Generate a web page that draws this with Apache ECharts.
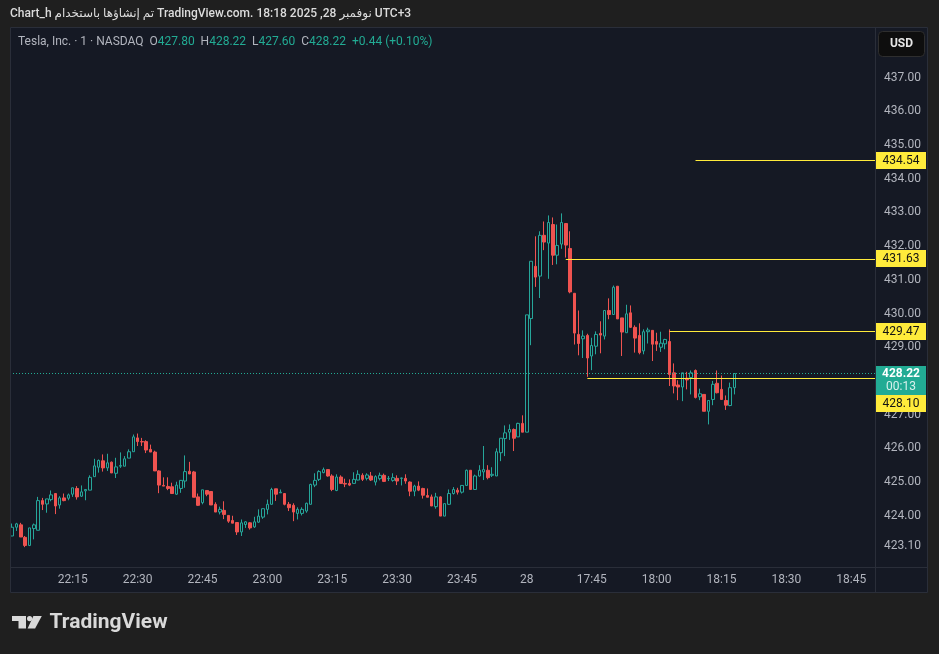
<!DOCTYPE html>
<html>
<head>
<meta charset="utf-8">
<script src="https://cdn.jsdelivr.net/npm/echarts@6.0.0/dist/echarts.min.js"></script>
<style>
html,body{margin:0;padding:0;background:#1f1f1f;}
#chart{width:939px;height:654px;}
</style>
</head>
<body>
<div id="chart"></div>
<script>
// ---------------- data ----------------
const sessions = [['22:01', '23:59'], ['17:30', '18:50']];
const tickTimes = ['22:15', '22:30', '22:45', '23:00', '23:15', '23:30', '23:45', '17:30', '17:45', '18:00', '18:15', '18:30', '18:45'];
const dayMark = { '17:30': '28' };

const open = [
  423.40, 423.66, 423.73, 423.36, 423.12, 423.62, 423.57, 424.45, 424.35, 424.48,
  424.66, 424.32, 424.53, 424.52, 424.64, 424.81, 424.58, 424.74, 424.76, 425.16,
  425.44, 425.63, 425.42, 425.59, 425.26, 425.47, 425.47, 425.71, 425.90, 426.31,
  426.20, 426.20, 425.97, 425.89, 425.33, 424.90, 424.87, 424.86, 424.64, 424.81,
  425.03, 425.32, 425.30, 424.56, 424.39, 424.75, 424.72, 424.34, 424.11, 424.16,
  424.01, 423.86, 423.80, 423.52, 423.74, 423.79, 423.67, 423.81, 423.96, 424.19,
  424.34, 424.80, 424.68, 424.66, 424.34, 424.31, 424.07, 424.07, 424.14, 424.34,
  424.91, 425.08, 425.28, 425.37, 425.18, 424.75, 425.15, 424.96, 424.96, 424.96,
  425.06, 425.20, 425.11, 425.18, 425.00, 425.10, 425.20, 425.10, 425.05, 425.11,
  425.11, 425.11, 425.00, 424.73, 424.88, 424.81, 424.60, 424.56, 424.27, 424.56,
  423.99, 424.34, 424.66, 424.76, 424.70, 424.90, 425.35, 424.78, 425.18, 425.30,
  425.35, 425.20, 425.18, 425.87, 426.29, 426.48, 426.56, 426.34, 426.74, 426.48,
  429.85, 431.40, 431.11, 432.32, 432.09, 432.64, 431.73, 432.06, 432.67, 431.93,
  430.60, 429.38, 429.25, 429.35, 428.74, 429.03, 429.41, 429.33, 430.09, 429.97,
  430.81, 429.87, 429.43, 430.02, 429.59, 429.35, 428.89, 429.46, 429.50, 429.17,
  429.00, 429.10, 429.17, 428.24, 427.88, 427.82, 428.08, 428.10, 428.31, 427.53,
  427.60, 427.10, 427.45, 427.93, 427.75, 427.42, 427.27, 427.80
];
const close = [
  423.66, 423.76, 423.37, 423.12, 423.64, 423.73, 424.45, 424.34, 424.50, 424.62,
  424.29, 424.53, 424.45, 424.62, 424.83, 424.56, 424.71, 424.78, 425.14, 425.48,
  425.64, 425.42, 425.57, 425.27, 425.45, 425.49, 425.69, 425.90, 426.34, 426.20,
  426.19, 425.95, 425.89, 425.33, 424.91, 424.88, 424.81, 424.66, 424.91, 425.05,
  425.31, 425.24, 424.55, 424.31, 424.77, 424.64, 424.32, 424.11, 424.19, 424.04,
  423.84, 423.78, 423.52, 423.79, 423.82, 423.64, 423.82, 423.99, 424.21, 424.34,
  424.78, 424.64, 424.70, 424.34, 424.24, 424.11, 424.19, 424.19, 424.37, 424.93,
  425.05, 425.31, 425.37, 425.18, 424.78, 425.15, 424.96, 424.94, 424.91, 425.08,
  425.23, 425.08, 425.21, 425.06, 425.16, 425.20, 425.02, 425.11, 425.13, 425.03,
  425.12, 425.03, 424.73, 424.88, 424.76, 424.61, 424.55, 424.29, 424.56, 423.99,
  424.36, 424.66, 424.78, 424.70, 424.90, 425.35, 424.78, 425.18, 425.35, 425.37,
  425.13, 425.23, 425.90, 426.30, 426.46, 426.56, 426.30, 426.74, 426.48, 429.96,
  431.55, 431.08, 432.32, 432.12, 432.70, 431.73, 432.02, 432.70, 432.03, 430.64,
  429.42, 429.11, 429.33, 428.68, 429.05, 429.38, 429.36, 430.09, 429.97, 430.78,
  429.84, 429.45, 429.99, 429.59, 429.27, 428.84, 429.46, 429.51, 429.09, 429.09,
  429.12, 429.23, 428.19, 427.85, 427.82, 428.24, 428.03, 428.24, 427.51, 427.62,
  427.10, 427.42, 427.90, 427.65, 427.45, 427.28, 427.80, 428.22
];
const low = [
  423.40, 423.55, 423.37, 423.07, 423.10, 423.30, 423.57, 424.17, 424.09, 424.43,
  424.05, 424.21, 424.43, 424.46, 424.56, 424.48, 424.56, 424.46, 424.76, 425.16,
  425.28, 425.31, 425.33, 425.27, 425.12, 425.42, 425.47, 425.71, 425.90, 426.07,
  426.07, 425.86, 425.89, 425.33, 424.67, 424.88, 424.76, 424.66, 424.62, 424.68,
  424.83, 425.24, 424.55, 424.29, 424.34, 424.58, 424.32, 424.11, 424.04, 423.90,
  423.79, 423.78, 423.43, 423.40, 423.64, 423.59, 423.64, 423.79, 423.91, 424.04,
  424.34, 424.44, 424.68, 424.31, 424.14, 423.84, 423.89, 424.01, 424.09, 424.34,
  424.85, 425.03, 425.26, 425.16, 424.73, 424.73, 424.96, 424.85, 424.88, 424.96,
  425.05, 425.03, 425.05, 425.03, 424.90, 425.05, 425.00, 425.03, 425.01, 424.91,
  424.90, 424.95, 424.58, 424.58, 424.73, 424.51, 424.55, 424.29, 424.21, 423.99,
  423.99, 424.32, 424.63, 424.63, 424.66, 424.90, 424.78, 424.78, 425.16, 425.06,
  425.08, 425.15, 425.18, 425.62, 425.77, 426.25, 425.92, 426.34, 426.48, 426.48,
  429.06, 430.79, 430.46, 431.88, 431.03, 431.44, 431.46, 431.92, 431.66, 430.60,
  429.08, 428.76, 428.68, 428.12, 428.32, 428.79, 428.82, 429.23, 429.83, 429.97,
  429.84, 428.74, 429.43, 429.57, 428.84, 428.79, 428.79, 429.11, 428.59, 428.89,
  428.86, 428.94, 427.85, 427.63, 427.43, 427.40, 427.75, 427.60, 427.48, 427.43,
  427.10, 426.71, 427.28, 427.63, 427.45, 427.14, 427.25, 427.60
];
const high = [
  423.77, 423.79, 423.79, 423.40, 423.64, 423.77, 424.56, 424.53, 424.50, 424.75,
  424.66, 424.58, 424.66, 424.66, 424.83, 424.88, 424.90, 424.78, 425.20, 425.69,
  425.67, 425.82, 425.84, 425.61, 425.72, 425.88, 425.77, 425.97, 426.41, 426.44,
  426.31, 426.24, 426.11, 425.93, 425.35, 425.14, 425.14, 424.98, 425.01, 425.05,
  425.79, 425.60, 425.33, 424.66, 424.77, 424.75, 424.72, 424.40, 424.27, 424.43,
  424.01, 424.00, 423.80, 423.89, 423.84, 423.81, 423.97, 424.19, 424.21, 424.48,
  424.83, 424.80, 424.78, 424.66, 424.41, 424.37, 424.25, 424.25, 424.39, 424.95,
  425.26, 425.35, 425.43, 425.37, 425.23, 425.23, 425.20, 425.10, 425.08, 425.29,
  425.35, 425.26, 425.26, 425.30, 425.20, 425.28, 425.25, 425.18, 425.26, 425.20,
  425.13, 425.23, 425.02, 424.92, 425.02, 424.83, 424.81, 424.63, 424.68, 424.58,
  424.36, 424.78, 424.85, 424.83, 424.90, 425.37, 425.35, 425.22, 425.50, 426.07,
  425.50, 425.44, 426.00, 426.30, 426.68, 426.71, 426.59, 426.76, 426.98, 429.96,
  431.55, 432.29, 432.44, 432.73, 432.91, 432.85, 432.64, 432.97, 432.67, 432.44,
  430.60, 430.09, 429.50, 429.40, 429.28, 429.47, 429.77, 430.09, 430.45, 430.83,
  430.81, 429.87, 430.26, 430.24, 429.65, 429.71, 429.53, 429.58, 429.50, 429.43,
  429.46, 429.25, 429.53, 428.52, 428.02, 428.24, 428.27, 428.31, 428.34, 427.77,
  427.60, 427.42, 428.00, 428.31, 428.16, 427.57, 427.95, 428.22
];

const yTicks = [423.10, 424, 425, 426, 427, 428, 429, 430, 431, 432, 433, 434, 435, 436, 437];
const levels = [434.54, 431.63, 429.47, 428.10];
const levelStart = ['18:09', '17:39', '18:03', '17:44'];
const lastPrice = 428.22;
const countdown = '00:13';
const headerText = 'Chart_h تم إنشاؤها باستخدام TradingView.com. نوفمبر 28, 2025 18:18 UTC+3';
const symbolInfo = 'Tesla, Inc. · 1 · NASDAQ';
const legendKeys = ['O', 'H', 'L', 'C'];
const legendVals = ['427.80', '428.22', '427.60', '428.22'];
const changeText = '+0.44 (+0.10%)';
const currency = 'USD';
const brand = 'TradingView';

// ---------------- build ----------------
function minuteRange(a, b) {
  const out = [];
  const [ah, am] = a.split(':').map(Number);
  const [bh, bm] = b.split(':').map(Number);
  for (let t = ah * 60 + am; t <= bh * 60 + bm; t++) {
    out.push(String(Math.floor(t / 60)).padStart(2, '0') + ':' + String(t % 60).padStart(2, '0'));
  }
  return out;
}
const categories = sessions.flatMap(s => minuteRange(s[0], s[1]));
const ohlc = open.map((o, i) => [o, close[i], low[i], high[i]]);

const FONT = 'Roboto, "DejaVu Sans", sans-serif';
const UP = '#26a69a', DOWN = '#ef5350', YEL = '#ffeb3b', TEAL = '#22ab94';
const GRID = { left: 10, top: 27, width: 865, height: 540 };
const RIGHT = GRID.left + GRID.width;
const BOTTOM = GRID.top + GRID.height;

const chart = echarts.init(document.getElementById('chart'), null, { renderer: 'canvas' });
chart.setOption({
  animation: false,
  backgroundColor: '#151924',
  textStyle: { fontFamily: FONT },
  grid: Object.assign({ containLabel: false }, GRID),
  xAxis: {
    type: 'category', data: categories, boundaryGap: true,
    axisLine: { show: false }, axisTick: { show: false }, splitLine: { show: false },
    axisLabel: {
      interval: (i, v) => tickTimes.includes(v),
      formatter: v => dayMark[v] || v,
      color: '#b2b5be', fontSize: 12, margin: 7, fontFamily: FONT
    }
  },
  yAxis: {
    type: 'value', position: 'right', min: 422.48, max: 438.50,
    axisLine: { show: false }, axisTick: { show: false, customValues: yTicks }, splitLine: { show: false },
    axisLabel: {
      customValues: yTicks, formatter: v => v.toFixed(2),
      color: '#b2b5be', fontSize: 12, margin: 9, fontFamily: FONT, padding: [4, 0, 0, 0]
    }
  },
  series: [{
    type: 'candlestick', data: ohlc, barWidth: 3,
    itemStyle: { color: 'transparent', color0: DOWN, borderColor: UP, borderColor0: DOWN, borderWidth: 1 },
    markLine: {
      silent: true, symbol: 'none', label: { show: false },
      lineStyle: { color: TEAL, type: [1, 2], width: 1 },
      data: [{ yAxis: lastPrice }]
    }
  }]
});

const yOf = v => chart.convertToPixel({ yAxisIndex: 0 }, v);
const xOf = c => chart.convertToPixel({ xAxisIndex: 0 }, c);
const g = [];
const GRAY = '#1f1f1f', BORDER = '#2a2e39';
// outer page areas
g.push({ type: 'rect', shape: { x: 0, y: 0, width: 939, height: GRID.top }, style: { fill: GRAY }, z: 60 });
g.push({ type: 'rect', shape: { x: 0, y: 593, width: 939, height: 61 }, style: { fill: GRAY }, z: 60 });
g.push({ type: 'rect', shape: { x: 0, y: 0, width: GRID.left, height: 654 }, style: { fill: GRAY }, z: 60 });
g.push({ type: 'rect', shape: { x: 928, y: 0, width: 11, height: 654 }, style: { fill: GRAY }, z: 60 });
g.push({ type: 'rect', shape: { x: GRID.left + 0.5, y: GRID.top + 0.5, width: 917, height: 565 }, style: { fill: 'none', stroke: BORDER, lineWidth: 1 }, z: 61 });
g.push({ type: 'line', shape: { x1: RIGHT + 0.5, y1: GRID.top, x2: RIGHT + 0.5, y2: 593 }, style: { stroke: BORDER, lineWidth: 1 }, z: 61 });
g.push({ type: 'line', shape: { x1: GRID.left, y1: BOTTOM + 0.5, x2: 928, y2: BOTTOM + 0.5 }, style: { stroke: BORDER, lineWidth: 1 }, z: 61 });

// header
g.push({ type: 'text', x: 10, y: 14, z: 62, style: { text: headerText, fill: '#dcdcdc', fontSize: 12, fontWeight: 500, fontFamily: FONT, verticalAlign: 'middle' } });
let legend = '{s|' + symbolInfo + '}  ';
legendKeys.forEach((k, i) => { legend += '{k|' + k + '}{v|' + legendVals[i] + '}  '; });
legend += '{v|' + changeText + '}';
g.push({ type: 'text', x: 18, y: 42, z: 62, style: {
  text: legend, fontSize: 12, fontFamily: FONT, verticalAlign: 'middle',
  rich: { s: { fill: '#b2b5be', fontSize: 12, fontFamily: FONT }, k: { fill: '#b2b5be', fontSize: 12, fontFamily: FONT }, v: { fill: TEAL, fontSize: 12, fontFamily: FONT } }
} });

// currency box
g.push({ type: 'rect', shape: { x: 878.5, y: 31.5, width: 46, height: 25, r: 4 }, style: { fill: '#0e0e0e', stroke: '#2e2e2e', lineWidth: 1 }, z: 62 });
g.push({ type: 'text', x: 901.5, y: 44, z: 63, style: { text: currency, fill: '#e6e6e6', fontSize: 12, fontWeight: 'bold', fontFamily: FONT, align: 'center', verticalAlign: 'middle' } });

// level lines
levels.forEach((v, i) => {
  const y = Math.round(yOf(v)) + 0.5;
  g.push({ type: 'line', shape: { x1: xOf(levelStart[i]), y1: y, x2: RIGHT, y2: y }, style: { stroke: YEL, lineWidth: 1 }, z: 40 });
});

// current price box
const yl = yOf(lastPrice);
const curTop = Math.round(yl - 8), curBottom = curTop + 29;
g.push({ type: 'rect', shape: { x: RIGHT + 1, y: curTop, width: 50, height: 29 }, style: { fill: TEAL }, z: 64 });
g.push({ type: 'text', x: RIGHT + 26, y: curTop + 8, z: 65, style: { text: lastPrice.toFixed(2), fill: '#ffffff', fontSize: 12, fontWeight: 'bold', fontFamily: FONT, align: 'center', verticalAlign: 'middle' } });
g.push({ type: 'text', x: RIGHT + 26, y: curTop + 21, z: 65, style: { text: countdown, fill: '#d8f1ed', fontSize: 12, fontFamily: FONT, align: 'center', verticalAlign: 'middle' } });

// level labels
levels.forEach(v => {
  let top = Math.round(yOf(v) - 8.5);
  if (top + 17 > curTop && top < curBottom) top = curBottom;
  g.push({ type: 'rect', shape: { x: RIGHT + 1, y: top, width: 50, height: 17 }, style: { fill: YEL }, z: 64 });
  g.push({ type: 'text', x: RIGHT + 26, y: top + 8.5, z: 65, style: { text: v.toFixed(2), fill: '#131313', fontSize: 12, fontFamily: FONT, align: 'center', verticalAlign: 'middle' } });
});

// brand logo
const LOGO = '#d9d9d9';
g.push({ type: 'rect', shape: { x: 12, y: 616, width: 14, height: 5 }, style: { fill: LOGO }, z: 62 });
g.push({ type: 'rect', shape: { x: 18.5, y: 616, width: 7.5, height: 12.5 }, style: { fill: LOGO }, z: 62 });
g.push({ type: 'circle', shape: { cx: 29.6, cy: 618.6, r: 2.6 }, style: { fill: LOGO }, z: 62 });
g.push({ type: 'polygon', shape: { points: [[33.4, 616], [41.8, 616], [35.1, 628.5], [27.6, 628.5]] }, style: { fill: LOGO }, z: 62 });
g.push({ type: 'text', x: 49.5, y: 623, z: 62, style: { text: brand, fill: LOGO, fontSize: 21, fontWeight: 'bold', fontFamily: FONT, verticalAlign: 'middle' } });

chart.setOption({ graphic: g });
</script>
</body>
</html>
